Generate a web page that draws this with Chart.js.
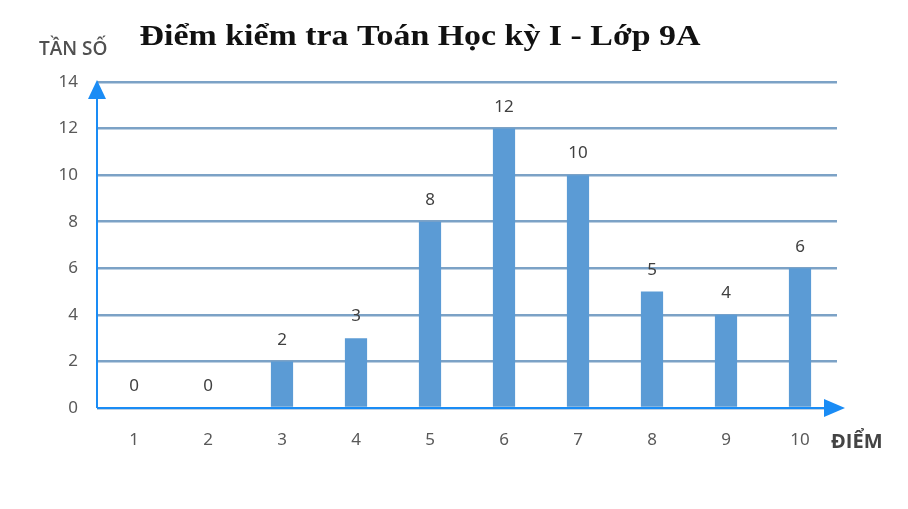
<!DOCTYPE html>
<html>
<head>
<meta charset="utf-8">
<script src="https://cdn.jsdelivr.net/npm/chart.js@4.4.1/dist/chart.umd.min.js"></script>
<style>
  html, body { margin: 0; padding: 0; background: #fff; }
  #wrap { width: 908px; height: 509px; }
</style>
</head>
<body>
<div id="wrap"><canvas id="myChart" width="908" height="509"></canvas></div>
<script>
// data
const diem = ['1', '2', '3', '4', '5', '6', '7', '8', '9', '10'];
const tanSo = [0, 0, 2, 3, 8, 12, 10, 5, 4, 6];
const yTicks = [0, 2, 4, 6, 8, 10, 12, 14];

const titleText = 'Điểm kiểm tra Toán Học kỳ I - Lớp 9A';
const axisColor = '#1a8cf5';

// draws title, axis arrows, axis captions and the value above each bar
const decorPlugin = {
  id: 'decor',
  afterDraw(chart) {
    const ctx = chart.ctx;
    const area = chart.chartArea;
    const y0 = chart.scales.y.getPixelForValue(0);
    const yTop = chart.scales.y.getPixelForValue(14);
    ctx.save();

    // axis lines
    ctx.strokeStyle = axisColor;
    ctx.lineWidth = 2;
    ctx.beginPath();
    ctx.moveTo(area.left, y0);
    ctx.lineTo(area.right - 10, y0);
    ctx.moveTo(area.left, y0);
    ctx.lineTo(area.left, yTop + 14);
    ctx.stroke();

    // arrow heads
    ctx.fillStyle = axisColor;
    ctx.beginPath();
    ctx.moveTo(area.left, yTop - 2);
    ctx.lineTo(area.left - 9, yTop + 17);
    ctx.lineTo(area.left + 9, yTop + 17);
    ctx.closePath();
    ctx.fill();
    ctx.beginPath();
    ctx.moveTo(area.right + 8, y0);
    ctx.lineTo(area.right - 13, y0 - 9);
    ctx.lineTo(area.right - 13, y0 + 9);
    ctx.closePath();
    ctx.fill();

    // values above bars
    ctx.fillStyle = '#404040';
    ctx.font = '17px "Noto Sans"';
    ctx.textAlign = 'center';
    ctx.textBaseline = 'bottom';
    chart.getDatasetMeta(0).data.forEach((bar, i) => {
      ctx.fillText(String(tanSo[i]), bar.x, bar.y - 13);
    });

    // title (the reference type is a little stretched sideways)
    ctx.save();
    ctx.fillStyle = '#111';
    ctx.font = 'bold 30px "Liberation Serif"';
    ctx.textBaseline = 'alphabetic';
    ctx.translate(420, 45);
    ctx.scale(1.13, 1);
    ctx.fillText(titleText, 0, 0);
    ctx.restore();

    // axis captions
    ctx.fillStyle = '#505050';
    ctx.font = '600 19px "Open Sans"';
    ctx.textAlign = 'left';
    ctx.textBaseline = 'alphabetic';
    ctx.fillText('TẦN SỐ', 39, 55);
    ctx.fillStyle = '#444';
    ctx.font = 'bold 20px "Open Sans"';
    ctx.fillText('ĐIỂM', 831, 448);
    ctx.restore();
  }
};

const ctx = document.getElementById('myChart').getContext('2d');
new Chart(ctx, {
  type: 'bar',
  data: {
    labels: diem,
    datasets: [{
      data: tanSo,
      backgroundColor: '#5b9bd5',
      barPercentage: 0.3,
      categoryPercentage: 1.0
    }]
  },
  options: {
    responsive: false,
    animation: false,
    layout: { padding: { top: 82, right: 71, left: 0, bottom: 0 } },
    plugins: {
      legend: { display: false },
      tooltip: { enabled: false }
    },
    scales: {
      x: {
        offset: true,
        grid: { display: false },
        border: { display: false },
        ticks: { color: '#595959', font: { family: 'Noto Sans', size: 17 }, padding: 14 },
        afterFit: (scale) => { scale.height = 101; }
      },
      y: {
        min: 0,
        max: 14,
        afterBuildTicks: (scale) => { scale.ticks = yTicks.map(v => ({ value: v })); },
        grid: { color: '#7ca2c6', lineWidth: 2.5, drawTicks: false },
        border: { display: false },
        ticks: { color: '#595959', font: { family: 'Noto Sans', size: 17 }, padding: 19 },
        afterFit: (scale) => { scale.width = 97; }
      }
    }
  },
  plugins: [decorPlugin]
});
</script>
</body>
</html>
